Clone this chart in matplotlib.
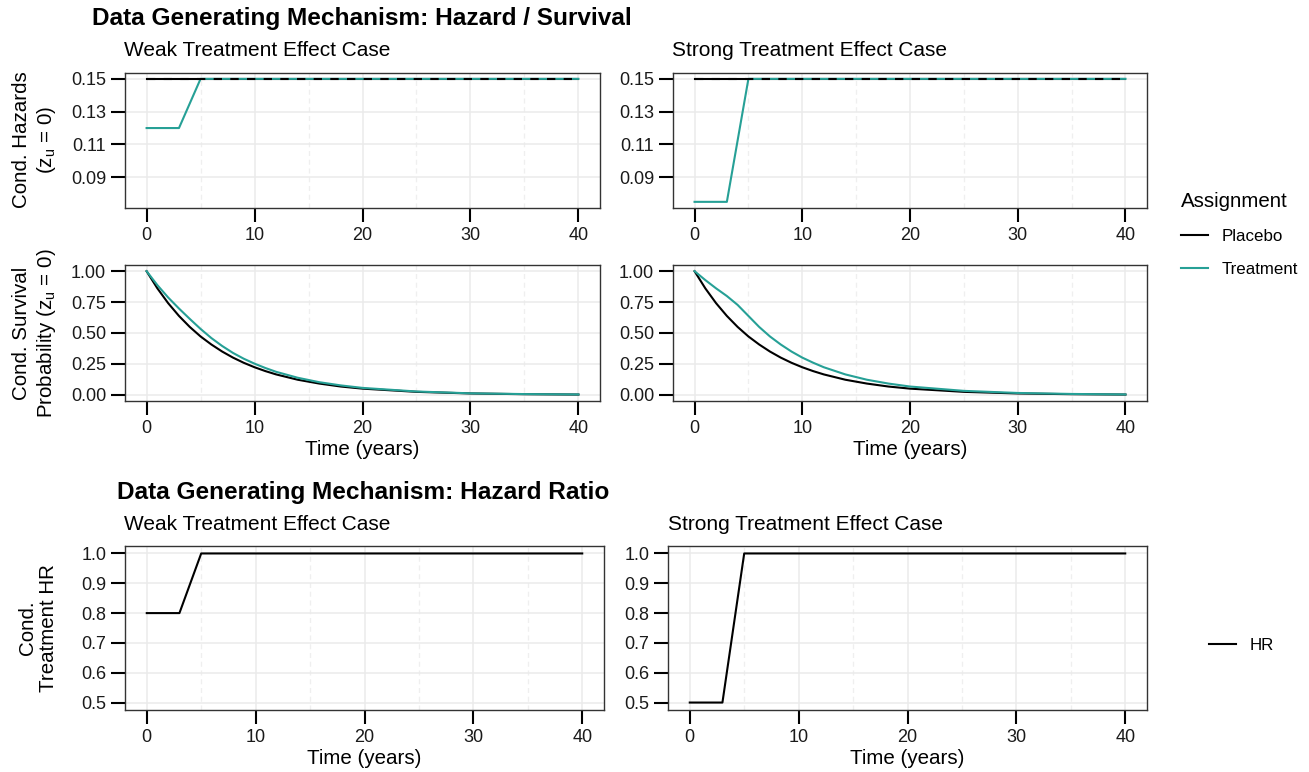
import numpy as np
import matplotlib
matplotlib.use("Agg")
import matplotlib.pyplot as plt
from matplotlib.lines import Line2D

plt.rcParams['font.family'] = ['Liberation Sans', 'DejaVu Sans']

teal = "#26A096"
W, H = 1309, 772

# hazards (z_u = 0)
haz_t = [0, 3, 5, 40]
haz_placebo = [0.15, 0.15, 0.15, 0.15]
haz_weak = [0.12, 0.12, 0.15, 0.15]
haz_strong = [0.075, 0.075, 0.15, 0.15]

# survival probability (z_u = 0)
surv_t = [0, 1, 2, 3, 4, 5, 6, 7, 8, 9, 10, 11, 12, 14, 16, 18, 20, 25, 30, 35, 40]
surv_placebo = [1.0, 0.861, 0.741, 0.638, 0.549, 0.472, 0.407, 0.350, 0.301, 0.259, 0.223,
                0.192, 0.165, 0.122, 0.091, 0.067, 0.050, 0.024, 0.011, 0.005, 0.002]
surv_weak = [1.0, 0.887, 0.787, 0.698, 0.614, 0.533, 0.459, 0.395, 0.339, 0.292, 0.252,
             0.217, 0.186, 0.138, 0.102, 0.076, 0.056, 0.027, 0.012, 0.006, 0.003]
surv_strong = [1.0, 0.928, 0.861, 0.799, 0.727, 0.638, 0.549, 0.472, 0.407, 0.350, 0.301,
               0.260, 0.223, 0.165, 0.122, 0.091, 0.067, 0.032, 0.015, 0.007, 0.003]

# hazard ratio
hr_t = [0, 3, 5, 40]
hr_weak = [0.8, 0.8, 1.0, 1.0]
hr_strong = [0.5, 0.5, 1.0, 1.0]

x_ticks = [0, 10, 20, 30, 40]
haz_ticks = [0.09, 0.11, 0.13, 0.15]
surv_ticks = [0.0, 0.25, 0.5, 0.75, 1.0]
hr_ticks = [0.5, 0.6, 0.7, 0.8, 0.9, 1.0]


def panel(x0, x1, y0, y1):
    ax = fig.add_axes([x0 / W, 1 - y1 / H, (x1 - x0) / W, (y1 - y0) / H])
    ax.set_xlim(-2, 42)
    ax.set_xticks(x_ticks)
    ax.set_xticks([5, 15, 25, 35], minor=True)
    ax.grid(which='major', color='#EBEBEB', lw=1.1, zorder=0)
    ax.grid(which='minor', axis='x', color='#EFEFEF', lw=0.9, ls=(0, (4, 3)), zorder=0)
    ax.tick_params(which='major', length=10, width=1.5, color='black', pad=3.5,
                   labelsize=13, labelcolor='#1A1A1A')
    ax.tick_params(which='minor', length=0)
    for s in ax.spines.values():
        s.set_color('#333333')
        s.set_linewidth(1.0)
    ax.set_axisbelow(True)
    return ax


fig = plt.figure(figsize=(W / 100, H / 100), dpi=100)

fig.text(92 / W, 1 - 18 / H, "Data Generating Mechanism: Hazard / Survival",
         fontsize=17.6, fontweight='bold', ha='left', va='center')
fig.text(124 / W, 1 - 50 / H, "Weak Treatment Effect Case", fontsize=15, ha='left', va='center')
fig.text(672 / W, 1 - 50 / H, "Strong Treatment Effect Case", fontsize=15, ha='left', va='center')

cols = [(125, 600), (673, 1147)]
treat_haz = [haz_weak, haz_strong]
treat_surv = [surv_weak, surv_strong]

for i, (x0, x1) in enumerate(cols):
    ax = panel(x0, x1, 72.7, 208)
    ax.plot(haz_t, haz_placebo, color='black', lw=1.5, zorder=3)
    ax.plot(haz_t, treat_haz[i], color=teal, lw=1.5, zorder=4)
    ax.plot(haz_t, haz_placebo, color='black', lw=1.5, ls=(0, (4, 4)), zorder=5)
    ax.set_ylim(0.07125, 0.15375)
    ax.set_yticks(haz_ticks)
    ax.set_yticklabels(["%.2f" % v for v in haz_ticks])

    ax = panel(x0, x1, 265, 401)
    ax.plot(surv_t, surv_placebo, color='black', lw=1.5, zorder=3)
    ax.plot(surv_t, treat_surv[i], color=teal, lw=1.5, zorder=4)
    ax.set_ylim(-0.05, 1.05)
    ax.set_yticks(surv_ticks)
    ax.set_yticklabels(["%.2f" % v for v in surv_ticks])
    ax.set_xlabel("Time (years)", fontsize=14.8, labelpad=2)

fig.text(35 / W, 1 - 140 / H, "Cond. Hazards\n(z$_\\mathregular{u}$ = 0)", rotation=90,
         fontsize=14.8, ha='center', va='center', multialignment='center')
fig.text(35 / W, 1 - 333 / H, "Cond. Survival\nProbability (z$_\\mathregular{u}$ = 0)", rotation=90,
         fontsize=14.8, ha='center', va='center', multialignment='center')

leg1 = fig.legend(handles=[Line2D([], [], color='black', lw=1.5),
                           Line2D([], [], color=teal, lw=1.5)],
                  labels=["Placebo", "Treatment"], title="Assignment",
                  loc='upper left', bbox_to_anchor=(1166 / W, 1 - 177 / H),
                  frameon=False, fontsize=12.2, title_fontsize=14.8,
                  handlelength=1.6, handletextpad=0.8, labelspacing=1.05)
leg1._legend_box.align = "left"

# hazard ratio block
fig.text(117 / W, 1 - 492 / H, "Data Generating Mechanism: Hazard Ratio",
         fontsize=17.6, fontweight='bold', ha='left', va='center')
fig.text(124 / W, 1 - 524 / H, "Weak Treatment Effect Case", fontsize=15, ha='left', va='center')
fig.text(668 / W, 1 - 524 / H, "Strong Treatment Effect Case", fontsize=15, ha='left', va='center')

for (x0, x1), hr in zip([(125, 604), (668, 1147)], [hr_weak, hr_strong]):
    ax = panel(x0, x1, 546, 710)
    ax.plot(hr_t, hr, color='black', lw=1.5, zorder=3)
    ax.set_ylim(0.475, 1.025)
    ax.set_yticks(hr_ticks)
    ax.set_yticklabels(["%.1f" % v for v in hr_ticks])
    ax.set_xlabel("Time (years)", fontsize=14.8, labelpad=2)

fig.text(38 / W, 1 - 628 / H, "Cond.\nTreatment HR", rotation=90,
         fontsize=14.8, ha='center', va='center', multialignment='center')

fig.legend(handles=[Line2D([], [], color='black', lw=1.5)], labels=["HR"],
           loc='center left', bbox_to_anchor=(1194 / W, 1 - 645 / H),
           frameon=False, fontsize=12.2, handlelength=1.6, handletextpad=0.8)

fig.savefig("out.png", dpi=100)
